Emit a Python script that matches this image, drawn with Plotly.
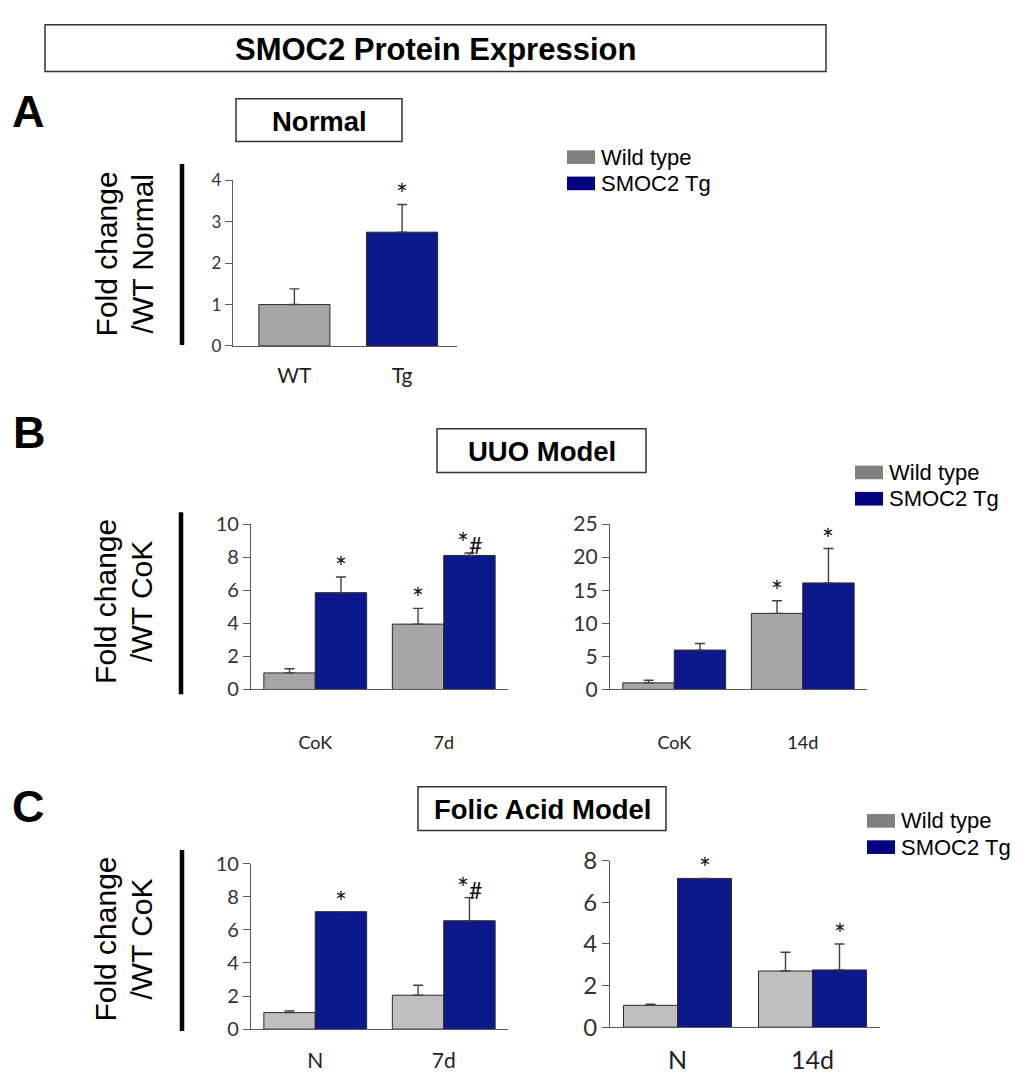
import plotly.graph_objects as go

W, H = 1021, 1083

# ---------------- data ----------------
a_categories = ["WT", "Tg"]
a_values = [1.0, 2.75]
a_errors = [0.38, 0.67]
a_sig = ["", "*"]

b1_categories = ["CoK", "7d"]
b1_wt = [1.0, 3.95]
b1_wt_err = [0.25, 0.95]
b1_tg = [5.85, 8.1]
b1_tg_err = [0.95, 0.15]
b1_wt_sig = ["", "*"]
b1_tg_sig = ["*", "*#"]

b2_categories = ["CoK", "14d"]
b2_wt = [1.0, 11.5]
b2_wt_err = [0.4, 1.9]
b2_tg = [5.95, 16.1]
b2_tg_err = [1.0, 5.2]
b2_wt_sig = ["", "*"]
b2_tg_sig = ["", "*"]

c1_categories = ["N", "7d"]
c1_wt = [1.0, 2.05]
c1_wt_err = [0.1, 0.6]
c1_tg = [7.1, 6.55]
c1_tg_err = [0.0, 1.4]
c1_wt_sig = ["", ""]
c1_tg_sig = ["*", "*#"]

c2_categories = ["N", "14d"]
c2_wt = [1.05, 2.7]
c2_wt_err = [0.05, 0.9]
c2_tg = [7.15, 2.75]
c2_tg_err = [0.0, 1.25]
c2_wt_sig = ["", ""]
c2_tg_sig = ["*", "*"]

a_yticks = [0, 1, 2, 3, 4]
b1_yticks = [0, 2, 4, 6, 8, 10]
b2_yticks = [0, 5, 10, 15, 20, 25]
c1_yticks = [0, 2, 4, 6, 8, 10]
c2_yticks = [0, 2, 4, 6, 8]

series_names = ["Wild type", "SMOC2 Tg"]
main_title = "SMOC2 Protein Expression"
panel_titles = ["Normal", "UUO Model", "Folic Acid Model"]
panel_letters = ["A", "B", "C"]
y_titles = [("Fold change", "/WT Normal"), ("Fold change", "/WT CoK"), ("Fold change", "/WT CoK")]

# ---------------- style ----------------
NAVY = "#0c198c"
GRAY_AB = "#a6a6a6"
GRAY_C = "#bfbfbf"
LEG_GRAY = "#808080"
LEG_NAVY = "#000080"
AXC = "#5a5a5a"
TICKF = "Lato, Carlito, Calibri, sans-serif"
ARIAL = "Liberation Sans, Arial, sans-serif"


def px(x):
    return x / W


def py(y):
    return 1 - y / H


fig = go.Figure()
annotations = []
shapes = []

panels = [
    dict(id="", box=(233, 457, 169, 339), xr=[-0.57, 1.51], yr=[0, 4], yt=a_yticks,
         tf=17, cf=21, xstand=11),
    dict(id="2", box=(251, 508, 522, 692), xr=[-0.5, 1.5], yr=[0, 10], yt=b1_yticks,
         tf=20, cf=18, xstand=37, cats=b1_categories, wt=b1_wt, wte=b1_wt_err, tg=b1_tg,
         tge=b1_tg_err, ws=b1_wt_sig, ts=b1_tg_sig, gray=GRAY_AB),
    dict(id="3", box=(610, 867, 522, 692), xr=[-0.5, 1.5], yr=[0, 25], yt=b2_yticks,
         tf=21, cf=18, xstand=37, cats=b2_categories, wt=b2_wt, wte=b2_wt_err, tg=b2_tg,
         tge=b2_tg_err, ws=b2_wt_sig, ts=b2_tg_sig, gray=GRAY_AB),
    dict(id="4", box=(251, 508, 871, 1041), xr=[-0.5, 1.5], yr=[0, 10], yt=c1_yticks,
         tf=20, cf=21, xstand=13, cats=c1_categories, wt=c1_wt, wte=c1_wt_err, tg=c1_tg,
         tge=c1_tg_err, ws=c1_wt_sig, ts=c1_tg_sig, gray=GRAY_C),
    dict(id="5", box=(610, 880, 868, 1039), xr=[-0.5, 1.5], yr=[0, 8], yt=c2_yticks,
         tf=24, cf=25, xstand=11, cats=c2_categories, wt=c2_wt, wte=c2_wt_err, tg=c2_tg,
         tge=c2_tg_err, ws=c2_wt_sig, ts=c2_tg_sig, gray=GRAY_C),
]

err_style = dict(type="data", symmetric=False, color="#404040", thickness=1.4, width=5)
bar_line = dict(color="#2a2a2a", width=1)


def star(xref, yref, x, y, text):
    if not text:
        return
    label = text.replace("#", "<span style='font-size:23px'>#</span>")
    annotations.append(dict(xref=xref, yref=yref, x=x, y=y, text=label, showarrow=False,
                            yanchor="bottom", xanchor="center", yshift=-9,
                            font=dict(family=TICKF, size=28, color="#111")))


layout_axes = {}
for p in panels:
    xid, yid = "x" + p["id"], "y" + p["id"]
    x0, x1, yt, yb = p["box"]
    layout_axes["xaxis" + p["id"]] = dict(
        domain=[px(x0), px(x1)], range=p["xr"], anchor=yid, showgrid=False, zeroline=False,
        showline=True, linecolor=AXC, linewidth=1.3, ticks="", tickvals=[0, 1],
        ticktext=(a_categories if p["id"] == "" else p["cats"]),
        tickfont=dict(family=TICKF, size=p["cf"], color="#222"), ticklabelstandoff=p["xstand"],
        fixedrange=True)
    layout_axes["yaxis" + p["id"]] = dict(
        domain=[py(yb), py(yt)], range=p["yr"], anchor=xid, showgrid=False, zeroline=False,
        showline=True, linecolor=AXC, linewidth=1.3, ticks="outside", ticklen=7, tickcolor=AXC,
        tickwidth=1.3, tickvals=p["yt"], tickfont=dict(family=TICKF, size=p["tf"], color="#333"),
        fixedrange=True)

    if p["id"] == "":
        fig.add_trace(go.Bar(x=[0, 1], y=a_values, width=0.66, offset=-0.33,
                             marker=dict(color=[GRAY_AB, NAVY], line=bar_line),
                             error_y=dict(array=a_errors, arrayminus=[0, 0], **err_style),
                             xaxis=xid, yaxis=yid, showlegend=False))
        for i, s in enumerate(a_sig):
            star(xid, yid, i, a_values[i] + a_errors[i], s)
    else:
        fig.add_trace(go.Bar(x=[0, 1], y=p["wt"], width=0.4, offset=-0.4, name=series_names[0],
                             marker=dict(color=p["gray"], line=bar_line),
                             error_y=dict(array=p["wte"], arrayminus=[0, 0], **err_style),
                             xaxis=xid, yaxis=yid, showlegend=False))
        fig.add_trace(go.Bar(x=[0, 1], y=p["tg"], width=0.4, offset=0.0, name=series_names[1],
                             marker=dict(color=NAVY, line=bar_line),
                             error_y=dict(array=p["tge"], arrayminus=[0, 0], **err_style),
                             xaxis=xid, yaxis=yid, showlegend=False))
        for i in range(2):
            star(xid, yid, i - 0.2, p["wt"][i] + p["wte"][i], p["ws"][i])
            star(xid, yid, i + 0.2, p["tg"][i] + p["tge"][i], p["ts"][i])


def rect(x0, y0, x1, y1, color="#333", width=1.5, fill=None):
    shapes.append(dict(type="rect", xref="paper", yref="paper", x0=px(x0), x1=px(x1),
                       y0=py(y1), y1=py(y0), line=dict(color=color, width=width),
                       fillcolor=fill, layer="above"))


def text(x, y, t, size, bold=False, family=ARIAL, xanchor="center", angle=0, color="#000"):
    annotations.append(dict(xref="paper", yref="paper", x=px(x), y=py(y),
                            text=("<b>%s</b>" % t) if bold else t, showarrow=False,
                            xanchor=xanchor, yanchor="middle", textangle=angle,
                            font=dict(family=family, size=size, color=color)))


rect(45, 9, 826, 57)
text(435.5, 34, main_title, 31, bold=True)

for (bx0, by0, bx1, by1), t in zip([(236, 85, 402, 129), (437, 424, 646, 469), (418, 792, 666, 837)],
                                   panel_titles):
    rect(bx0, by0, bx1, by1)
    text((bx0 + bx1) / 2, (by0 + by1) / 2 + 1, t, 27.5, bold=True)

for (lx, ly), t in zip([(28, 98), (29, 428), (28, 812)], panel_letters):
    text(lx, ly, t, 45, bold=True)

for (lx, ly0, ly1, cy), (l1, l2) in zip([(182, 152, 338, 245), (181, 510, 697, 602),
                                         (182, 857, 1043, 949)], y_titles):
    shapes.append(dict(type="line", xref="paper", yref="paper", x0=px(lx), x1=px(lx),
                       y0=py(ly0), y1=py(ly1), line=dict(color="#000", width=4.5)))
    text(106, cy, l1, 30, angle=-90)
    text(142, cy, l2, 30, angle=-90)

for (sx, sy) in [(567, 138), (855, 462), (867, 820)]:
    for k, (name, col) in enumerate(zip(series_names, [LEG_GRAY, LEG_NAVY])):
        y0 = sy + k * 27
        rect(sx, y0, sx + 28, y0 + 14, color=col, width=0, fill=col)
        text(sx + 32, y0 + 7, name, 22, xanchor="left")

fig.update_layout(
    width=W, height=H, margin=dict(l=0, r=0, t=0, b=0),
    paper_bgcolor="white", plot_bgcolor="white", barmode="overlay",
    annotations=annotations, shapes=shapes, showlegend=False,
    **layout_axes)

fig.write_html("out.html", config={"displayModeBar": False})
